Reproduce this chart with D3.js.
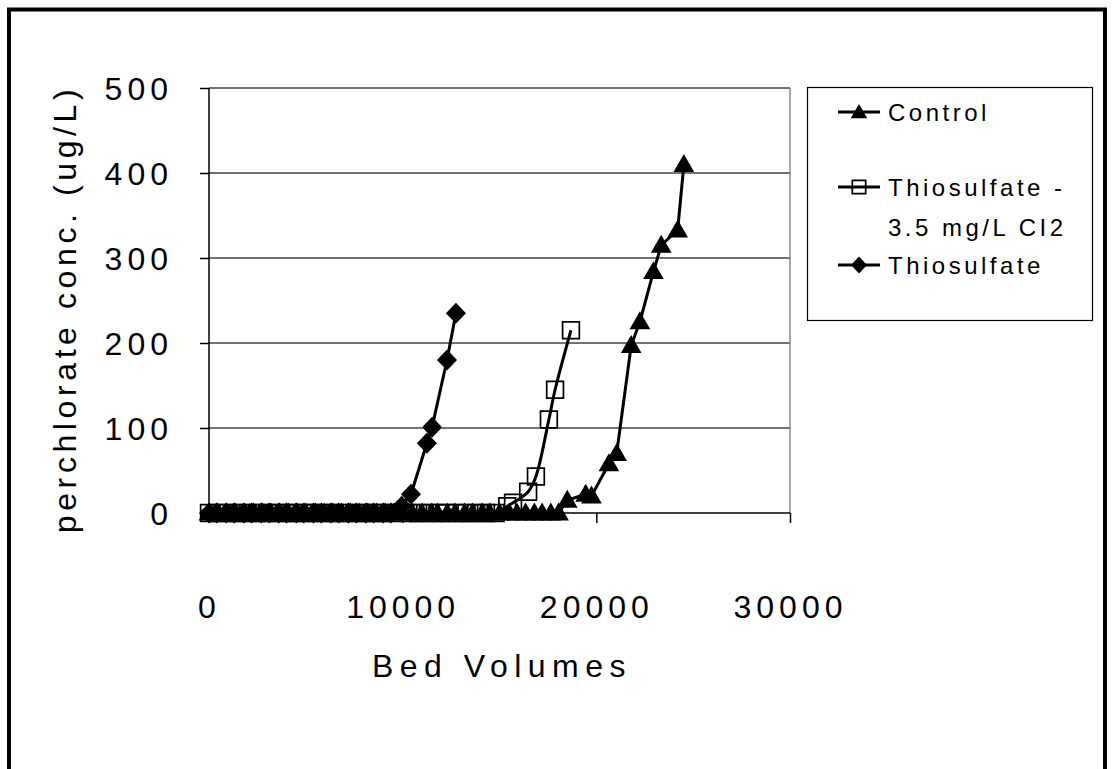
<!DOCTYPE html>
<html>
<head>
<meta charset="utf-8">
<script src="https://cdn.jsdelivr.net/npm/d3@7"></script>
<style>
  html, body { margin: 0; padding: 0; background: #fff; }
  svg { display: block; }
  text { font-family: "Liberation Sans", Arial, sans-serif; fill: #000; }
</style>
</head>
<body>
<script>
// ---------- data ----------
const seriesNames = ["Control", "Thiosulfate - 3.5 mg/L CI2", "Thiosulfate"];

const controlX = [0, 450, 900, 1350, 1800, 2300, 2750, 3200, 3650, 4100, 4550, 5000, 5500, 5950, 6400, 6850, 7300, 7750, 8200, 8650, 9100, 9550, 10000, 10500, 11000, 11500, 11800, 12300, 12700, 13200, 13600, 14100, 14500, 15000, 15500, 15900, 16350, 16800, 17200, 17650, 18050, 18500, 19450, 19750, 20650, 21050, 21800, 22250, 22950, 23350, 24200, 24520];
const controlY = [0, 0, 0, 0, 0, 0, 0, 0, 0, 0, 0, 0, 0, 0, 0, 0, 0, 0, 0, 0, 0, 0, 0, 0, 0, 0, 0, 0, 0, 0, 0, 0, 0, 0, 0, 0, 0, 0, 0, 0, 0, 15, 22, 20, 58, 70, 197, 225, 284, 315, 333, 410];

const thioClX = [0, 500, 1000, 1500, 2000, 2500, 3000, 3500, 4000, 4500, 5000, 5500, 6000, 6500, 7000, 7500, 8000, 8500, 9000, 9500, 10300, 10800, 11300, 11800, 12300, 12800, 13300, 13800, 14300, 14800, 15400, 15700, 16480, 16880, 17550, 17870, 18690];
const thioClY = [0, 0, 0, 0, 0, 0, 0, 0, 0, 0, 0, 0, 0, 0, 0, 0, 0, 0, 0, 0, 0, 0, 0, 0, 0, 0, 0, 0, 0, 0, 8, 12, 25, 43, 110, 145, 215];

const thioX = [0, 400, 900, 1300, 1800, 2200, 2700, 3100, 3600, 4000, 4500, 4900, 5400, 5800, 6300, 6700, 7200, 7600, 8100, 8500, 9000, 9400, 9950, 10430, 11250, 11520, 12290, 12750];
const thioY = [0, 0, 0, 0, 0, 0, 0, 0, 0, 0, 0, 0, 0, 0, 0, 0, 0, 0, 0, 0, 0, 0, 8, 22, 82, 101, 180, 235];

const xTicks = [0, 10000, 20000, 30000];
const yTicks = [0, 100, 200, 300, 400, 500];
const xTitle = "Bed Volumes";
const yTitle = "perchlorate conc. (ug/L)";

// ---------- layout ----------
const W = 1113, H = 769;
const plot = { left: 209, right: 790, top: 88, bottom: 513 };

const svg = d3.select("body").append("svg").attr("width", W).attr("height", H);

// outer frame
svg.append("rect").attr("x", 9).attr("y", 9.5).attr("width", 1096).attr("height", 820)
  .attr("fill", "none").attr("stroke", "#000").attr("stroke-width", 4);

const x = d3.scaleLinear().domain([0, 30000]).range([plot.left, plot.right]);
const y = d3.scaleLinear().domain([0, 500]).range([plot.bottom, plot.top]);

// gridlines
svg.append("g").selectAll("line").data(yTicks.filter(d => d > 0)).join("line")
  .attr("x1", plot.left).attr("x2", plot.right)
  .attr("y1", d => y(d)).attr("y2", d => y(d))
  .attr("stroke", "#444").attr("stroke-width", 1.3);
// right border of plot area
svg.append("line").attr("x1", plot.right).attr("x2", plot.right)
  .attr("y1", plot.top).attr("y2", plot.bottom).attr("stroke", "#777").attr("stroke-width", 1.3);

const tickFont = { size: "32px", spacing: "5px" };

// y axis
const yAxis = d3.axisLeft(y).tickValues(yTicks).tickSize(9).tickPadding(27).tickFormat(d3.format("d"));
const gy = svg.append("g").attr("transform", `translate(${plot.left},0)`).call(yAxis);
gy.select(".domain").attr("stroke", "#000").attr("stroke-width", 1.5).attr("d", `M0,${plot.top}V${plot.bottom}`);
gy.selectAll(".tick line").attr("stroke", "#000").attr("stroke-width", 1.5);
gy.selectAll(".tick text").style("font-family", "Liberation Sans, Arial, sans-serif")
  .style("font-size", tickFont.size).style("letter-spacing", tickFont.spacing).attr("dy", "0.36em").attr("fill", "#000");

// x axis
const xAxis = d3.axisBottom(x).tickValues(xTicks).tickSize(10).tickPadding(72).tickFormat(d3.format("d"));
const gx = svg.append("g").attr("transform", `translate(0,${plot.bottom})`).call(xAxis);
gx.select(".domain").attr("stroke", "#000").attr("stroke-width", 1.5).attr("d", `M${plot.left},0H${plot.right}`);
gx.selectAll(".tick line").attr("stroke", "#000").attr("stroke-width", 1.5);
gx.selectAll(".tick text").style("font-family", "Liberation Sans, Arial, sans-serif")
  .style("font-size", tickFont.size).style("letter-spacing", tickFont.spacing).attr("fill", "#000");

// titles
svg.append("text").attr("x", 502).attr("y", 677).attr("text-anchor", "middle")
  .style("font-size", "32px").style("letter-spacing", "6.5px").text(xTitle);
svg.append("text").attr("transform", `translate(76,309) rotate(-90)`).attr("text-anchor", "middle")
  .style("font-size", "32px").style("letter-spacing", "4.6px").text(yTitle);

// ---------- markers ----------
const triSym = d3.symbol().type(d3.symbolTriangle).size(185);
const sqSym = d3.symbol().type(d3.symbolSquare).size(280);
const diamondPath = "M0,-10.5L10,0L0,10.5L-10,0Z";

function drawSeries(xs, ys, kind, curve) {
  const pts = xs.map((v, i) => [v, ys[i]]);
  const line = d3.line().x(d => x(d[0])).y(d => y(d[1])).curve(curve);
  svg.append("path").datum(pts).attr("d", line).attr("fill", "none")
    .attr("stroke", "#000").attr("stroke-width", 3).attr("stroke-linejoin", "round");
  const g = svg.append("g");
  pts.forEach(p => drawMarker(g, x(p[0]), y(p[1]), kind, 1));
}
function drawMarker(g, cx, cy, kind, s) {
  if (kind === "tri") {
    g.append("path").attr("d", triSym()).attr("transform", `translate(${cx},${cy + 1.5}) scale(${s})`).attr("fill", "#000");
  } else if (kind === "sq") {
    g.append("path").attr("d", sqSym()).attr("transform", `translate(${cx},${cy}) scale(${s})`)
      .attr("fill", "none").attr("stroke", "#000").attr("stroke-width", 1.7 / s);
  } else {
    g.append("path").attr("d", diamondPath).attr("transform", `translate(${cx},${cy}) scale(${s})`).attr("fill", "#000");
  }
}

drawSeries(thioClX, thioClY, "sq", d3.curveCatmullRom);
drawSeries(thioX, thioY, "dia", d3.curveLinear);
drawSeries(controlX, controlY, "tri", d3.curveLinear);

// ---------- legend ----------
svg.append("rect").attr("x", 807.5).attr("y", 87.5).attr("width", 285).attr("height", 233)
  .attr("fill", "#fff").attr("stroke", "#000").attr("stroke-width", 1.2);

const legendItems = [
  { kind: "tri", y: 112, lines: ["Control"] },
  { kind: "sq", y: 187, lines: ["Thiosulfate -", "3.5 mg/L CI2"] },
  { kind: "dia", y: 265, lines: ["Thiosulfate"] }
];
legendItems.forEach((it) => {
  const g = svg.append("g");
  g.append("line").attr("x1", 838).attr("x2", 880).attr("y1", it.y).attr("y2", it.y)
    .attr("stroke", "#000").attr("stroke-width", 3);
  drawMarker(g, 859, it.y, it.kind, it.kind === "sq" ? 0.8 : 0.8);
  it.lines.forEach((t, j) => {
    g.append("text").attr("x", 888).attr("y", it.y + 9 + j * 40)
      .style("font-size", "24px").style("letter-spacing", "3.5px").text(t);
  });
});
</script>
</body>
</html>
